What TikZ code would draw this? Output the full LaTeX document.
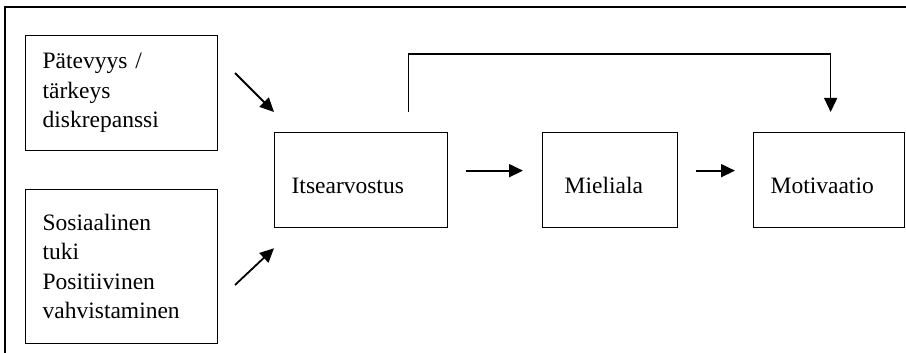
\documentclass[tikz,border=0pt]{standalone}
\usepackage{fontspec}
\setmainfont{Liberation Serif}
\usetikzlibrary{arrows.meta}
\tikzset{
  box/.style={draw, line width=1.3pt, anchor=north west, align=left,
    inner xsep=17pt, font=\fontsize{23.5}{29.5}\selectfont},
  chain/.style={box, minimum height=95pt, text height=32pt, text depth=5pt},
  link/.style={line width=1.8pt, -{Triangle[length=14pt,width=13pt]}},
  loop/.style={line width=1.3pt, -{Triangle[length=14pt,width=13pt]}},
}
\begin{document}
\begin{tikzpicture}[x=1pt,y=-1pt]
    \useasboundingbox (0,0) rectangle (906,353);
    % outer frame, open right and bottom
    \draw[line width=1.3pt] (906,7) -- (5,7) -- (5,353);
    % input boxes
    \node[box, text width=158pt, minimum height=115pt] (pat) at (25,35) {P\"atevyys /\\t\"arkeys\\diskrepanssi};
    \node[box, text width=158pt, minimum height=154pt] (sos) at (25,189) {Sosiaalinen\\tuki\\Positiivinen\\vahvistaminen};
    % chain
    \node[chain, text width=139pt] (itse) at (274,132) {Itsearvostus};
    \node[chain, text width=91pt, inner xsep=22pt] (miel) at (542,132) {Mieliala};
    \node[chain, text width=117pt] (moti) at (753,132) {Motivaatio};
    % free ends of the slanted arrows
    \coordinate (patout) at (235,73);
    \coordinate (sosout) at (235,285);
    \draw[link] (patout) -- ([yshift=20pt]itse.north west);
    \draw[link] (sosout) -- ([yshift=-20pt]itse.south west);
    \draw[link, shorten <=18pt, shorten >=19pt] ([yshift=9.5pt]itse.east) -- ([yshift=9.5pt]miel.west);
    \draw[link, shorten <=18pt, shorten >=18pt] ([yshift=9.5pt]miel.east) -- ([yshift=9.5pt]moti.west);
    % feedback
    \draw[loop] ([shift={(47.5pt,20pt)}]itse.north) -- ++(0pt,58pt) -| ([shift={(1.5pt,20pt)}]moti.north);
\end{tikzpicture}
\end{document}
